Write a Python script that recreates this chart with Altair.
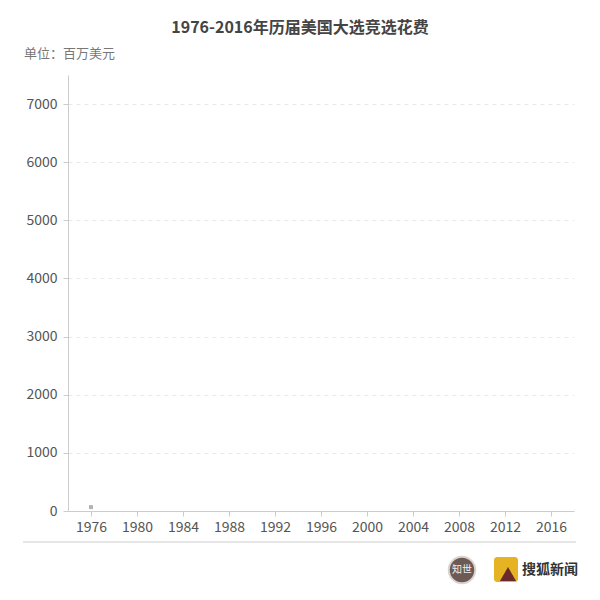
import altair as alt
import pandas as pd

years = ["1976", "1980", "1984", "1988", "1992", "1996", "2000", "2004", "2008", "2012", "2016"]
shown_years = ["1976"]
shown_values = [66.9]  # 百万美元
y_ticks = [0, 1000, 2000, 3000, 4000, 5000, 6000, 7000]

title_text = "1976-2016年历届美国大选竞选花费"
unit_text = "单位：百万美元"
brand_text = "搜狐新闻"
badge_text = "知世"

FONT = "Noto Sans CJK SC"

df = pd.DataFrame({"year": shown_years, "value": shown_values})
one = pd.DataFrame({"k": [0]})

x_scale = alt.Scale(domain=years, paddingInner=0, paddingOuter=0)

points = alt.Chart(df).mark_square(size=16, color="#b3b3b3", opacity=1).encode(
    x=alt.X("year:N", scale=x_scale, type="ordinal",
            axis=alt.Axis(title=None, labelAngle=0, labelFontSize=14, labelColor="#555",
                          labelFont=FONT, domainColor="#ccc", tickColor="#ccc",
                          tickSize=5, labelPadding=4, grid=False, bandPosition=0.5)),
    y=alt.Y("value:Q", scale=alt.Scale(domain=[0, 7500], nice=False),
            axis=alt.Axis(title=None, values=y_ticks, format="d", labelFontSize=14,
                          labelColor="#555", labelFont=FONT, domainColor="#ccc",
                          tickColor="#ccc", tickSize=5, labelPadding=6, grid=True,
                          gridColor="#e8e8e8", gridDash=[4, 4])),
)

base = alt.Chart(one)

title = base.mark_text(fontSize=16, fontWeight="bold", color="#444", font=FONT,
                       align="center", baseline="middle").encode(
    x=alt.value(232), y=alt.value(-47), text=alt.value(title_text))

unit = base.mark_text(fontSize=13, color="#777", font=FONT,
                      align="left", baseline="middle").encode(
    x=alt.value(-44), y=alt.value(-21), text=alt.value(unit_text))

bottom_rule = base.mark_rule(color="#ccc", strokeWidth=1).encode(
    x=alt.value(-45), x2=alt.value(508), y=alt.value(467))

badge = base.mark_circle(size=700, color="#6e5a55", opacity=1, stroke="#d9d4cc",
                         strokeWidth=2).encode(x=alt.value(394), y=alt.value(495))
badge_t = base.mark_text(fontSize=10, color="#eee", font=FONT, align="center",
                         baseline="middle").encode(
    x=alt.value(394), y=alt.value(495), text=alt.value(badge_text))

logo_sq = base.mark_rect(color="#e6b422", cornerRadius=3).encode(
    x=alt.value(426), x2=alt.value(450), y=alt.value(482), y2=alt.value(507))
logo_m = base.mark_point(shape="triangle-up", filled=True, size=260, color="#6b2a2a",
                         opacity=1).encode(x=alt.value(440), y=alt.value(499))
brand = base.mark_text(fontSize=14, fontWeight="bold", color="#333", font=FONT,
                       align="left", baseline="middle").encode(
    x=alt.value(454), y=alt.value(495), text=alt.value(brand_text))

chart = alt.layer(points, title, unit, bottom_rule, badge, badge_t, logo_sq, logo_m, brand).properties(
    width=506, height=436,
    autosize=alt.AutoSizeParams(type="none"),
    padding={"left": 60, "top": 67, "right": 18, "bottom": 81},
).configure_view(stroke=None).configure_axisY(domain=True)

chart.save("out.html", embed_options={"renderer": "svg", "actions": False})
